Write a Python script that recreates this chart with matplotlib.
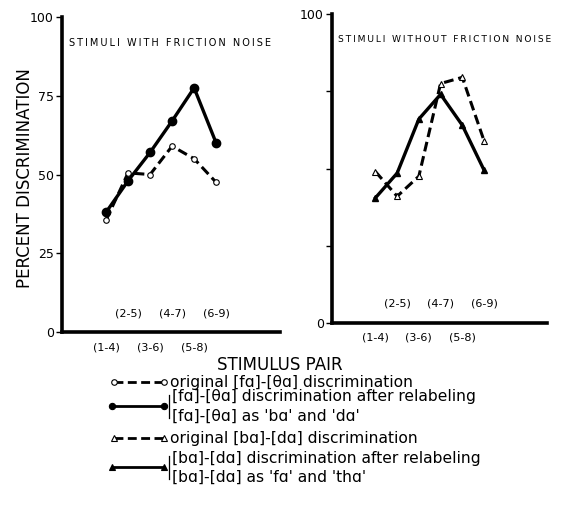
import matplotlib
matplotlib.use('Agg')
import matplotlib.pyplot as plt

plt.rcParams['font.family'] = ['DejaVu Sans']

# stimulus pairs, positions 1..6
pair_pos = [1, 2, 3, 4, 5, 6]
pair_labels = ['(1-4)', '(2-5)', '(3-6)', '(4-7)', '(5-8)', '(6-9)']

# with friction noise: [fa]-[θa]
fric_original = [35.5, 50.5, 50, 59, 55, 47.5]
fric_relabeled = [38, 48, 57, 67, 77.5, 60]

# without friction noise: [ba]-[da]
nofric_original = [49, 41, 47.5, 77.5, 79.5, 59]
nofric_relabeled = [40.5, 48.5, 66, 74, 64, 49.5]

fig = plt.figure(figsize=(5.69, 5.29), dpi=100)
W, H = 569, 529


def px_axes(x0, x1, ytop, ybot):
    return fig.add_axes([x0 / W, (H - ybot) / H, (x1 - x0) / W, (ybot - ytop) / H])


dash = (0, (3.2, 1.6))

ax1 = px_axes(62, 280, 17, 332)
ax2 = px_axes(332, 547, 14, 323)

ax1.plot(pair_pos, fric_original, color='black', lw=2.2, linestyle=dash,
         marker='o', ms=4, mfc='white', mec='black', mew=0.8)
ax1.plot(pair_pos, fric_relabeled, color='black', lw=2.4,
         marker='o', ms=6, mfc='black', mec='black')

ax2.plot(pair_pos, nofric_original, color='black', lw=2.2, linestyle=dash,
         marker='^', ms=4, mfc='white', mec='black', mew=0.8)
ax2.plot(pair_pos, nofric_relabeled, color='black', lw=2.4,
         marker='^', ms=5, mfc='black', mec='black')

titles = ['STIMULI WITH FRICTION NOISE', 'STIMULI WITHOUT FRICTION NOISE']
title_sizes = [7, 6.6]
for ax, title, tsize in zip([ax1, ax2], titles, title_sizes):
    ax.set_ylim(0, 100)
    ax.set_xlim(-1, 8.9)
    for s in ['top', 'right']:
        ax.spines[s].set_visible(False)
    for s in ['left', 'bottom']:
        ax.spines[s].set_linewidth(2.6)
    ax.set_xticks([])
    ax.set_yticks([0, 25, 50, 75, 100])
    ax.tick_params(axis='y', direction='out', length=4, width=1, labelsize=9, pad=2)
    # letter-spaced panel caption
    ax.text(0.03, 0.917, '\u2009'.join(title), transform=ax.transAxes,
            fontsize=tsize, ha='left', va='center')
    for x, lab in zip(pair_pos, pair_labels):
        if x % 2 == 1:
            ax.annotate(lab, xy=(x, 0), xycoords=('data', 'axes fraction'),
                        xytext=(0, -15), textcoords='offset pixels',
                        ha='center', va='center', fontsize=8)
        else:
            ax.annotate(lab, xy=(x, 0), xycoords=('data', 'axes fraction'),
                        xytext=(0, 19), textcoords='offset pixels',
                        ha='center', va='center', fontsize=8)

ax1.set_yticklabels(['0', '25', '50', '75', '100'])
ax2.set_yticklabels(['0', '', '', '', '100'])

fig.text(25 / W, (H - 178) / H, 'PERCENT DISCRIMINATION', rotation=90,
         ha='center', va='center', fontsize=12)
fig.text(280 / W, (H - 365) / H, 'STIMULUS PAIR', ha='center', va='center',
         fontsize=12)

# legend drawn in pixel coordinates
lg = fig.add_axes([0, 0, 1, 1], zorder=5)
lg.set_xlim(0, W)
lg.set_ylim(H, 0)
lg.axis('off')
lg.patch.set_alpha(0)

fs = 11.2


def entry(y, marker, filled, dashed, lines):
    x0 = 114 if dashed else 112
    lg.plot([x0, 164], [y, y], color='black', lw=2.0,
            linestyle=dash if dashed else '-',
            marker=marker, ms=4 if not filled else 4.5,
            mfc='black' if filled else 'white', mec='black', mew=0.8)
    if len(lines) == 1:
        lg.text(170, y, lines[0], ha='left', va='center', fontsize=fs)
    else:
        lg.plot([169, 169], [y - 11, y + 12], color='black', lw=0.9)
        lg.text(172, y - 9, lines[0], ha='left', va='center', fontsize=fs)
        lg.text(172, y + 10, lines[1], ha='left', va='center', fontsize=fs)


entry(382, 'o', False, True, ['original [fɑ]-[θɑ] discrimination'])
entry(406, 'o', True, False, ['[fɑ]-[θɑ] discrimination after relabeling',
                              "[fɑ]-[θɑ] as 'bɑ' and 'dɑ'"])
entry(438, '^', False, True, ['original [bɑ]-[dɑ] discrimination'])
entry(467, '^', True, False, ['[bɑ]-[dɑ] discrimination after relabeling',
                              "[bɑ]-[dɑ] as 'fɑ' and 'thɑ'"])

fig.savefig('out.png', dpi=100)
